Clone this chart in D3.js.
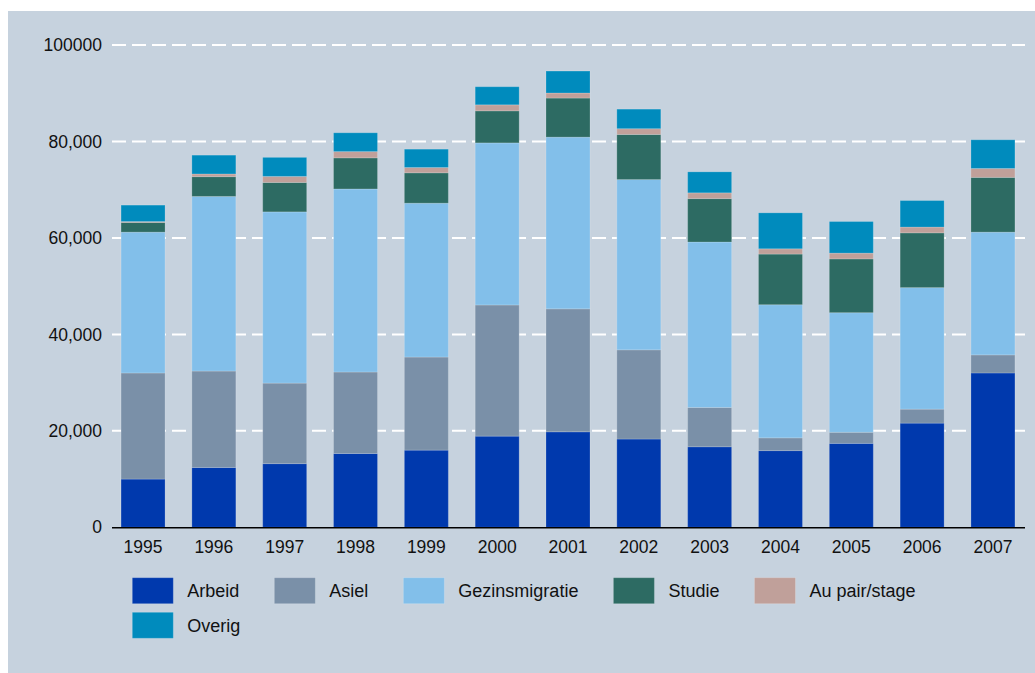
<!DOCTYPE html>
<html>
<head>
<meta charset="utf-8">
<script src="https://cdn.jsdelivr.net/npm/d3@7"></script>
<style>
  body { margin: 0; background: #fff; }
  #chart-area { width: 1035px; height: 673px; }
</style>
</head>
<body>
<div id="chart-area"></div>
<script>
var years = ["1995", "1996", "1997", "1998", "1999", "2000", "2001", "2002", "2003", "2004", "2005", "2006", "2007"];
var categories = ["Arbeid", "Asiel", "Gezinsmigratie", "Studie", "Au pair/stage", "Overig"];

var arbeid   = [10000, 12400, 13200, 15300, 16000, 18900, 19800, 18300, 16700, 15900, 17400, 21600, 32000];
var asiel    = [22000, 20000, 16700, 16900, 19300, 27200, 25500, 18500,  8150,  2650,  2300,  2900,  3750];
var gezins   = [29200, 36200, 35500, 37950, 31900, 33600, 35600, 35300, 34300, 27600, 24800, 25200, 25450];
var studie   = [ 2000,  4100,  6100,  6450,  6300,  6650,  8100,  9350,  9000, 10500, 11150, 11350, 11350];
var aupair   = [  200,   560,  1250,  1300,  1100,  1250,  1050,  1200,  1200,  1100,  1200,  1200,  1850];
var overig   = [ 3400,  3900,  3950,  3900,  3800,  3750,  4550,  4050,  4350,  7450,  6550,  5500,  5950];

var yTicks = [0, 20000, 40000, 60000, 80000, 100000];
var yTickLabels = ["0", "20,000", "40,000", "60,000", "80,000", "100000"];

var colors = ["#0039ad", "#7a90a8", "#82bfea", "#2d6b63", "#c0a09a", "#008bbd"];

var width = 1035, height = 673;
var font = "'Liberation Sans', Arial, sans-serif";

var svg = d3.select("#chart-area").append("svg")
    .attr("width", width)
    .attr("height", height);

// panel background
svg.append("rect")
    .attr("x", 8)
    .attr("y", 11)
    .attr("width", width - 8)
    .attr("height", height - 11)
    .attr("fill", "#c6d2de");

var x = d3.scaleBand()
    .domain(years)
    .range([107.6, 1028.4])
    .paddingInner(0.379)
    .paddingOuter(0.19);

var y = d3.scaleLinear()
    .domain([0, 100000])
    .range([527.3, 45]);

// gridlines
svg.selectAll(".grid")
    .data(yTicks.slice(1))
    .enter().append("line")
    .attr("class", "grid")
    .attr("x1", 112)
    .attr("x2", 1025)
    .attr("y1", d => y(d))
    .attr("y2", d => y(d))
    .attr("stroke", "#fff")
    .attr("stroke-width", 2)
    .attr("stroke-dasharray", "14,6");

// y labels
svg.selectAll(".ylabel")
    .data(yTicks)
    .enter().append("text")
    .attr("class", "ylabel")
    .attr("x", 102)
    .attr("y", d => y(d))
    .attr("dy", "0.35em")
    .attr("text-anchor", "end")
    .attr("font-family", font)
    .attr("font-size", "17.5px")
    .attr("fill", "#111")
    .text((d, i) => yTickLabels[i]);

// stacked data
var table = years.map(function(yr, i) {
    return {
        year: yr,
        "Arbeid": arbeid[i],
        "Asiel": asiel[i],
        "Gezinsmigratie": gezins[i],
        "Studie": studie[i],
        "Au pair/stage": aupair[i],
        "Overig": overig[i]
    };
});

var series = d3.stack().keys(categories)(table);

var groups = svg.selectAll(".series")
    .data(series)
    .enter().append("g")
    .attr("class", "series")
    .attr("fill", (d, i) => colors[i]);

groups.selectAll("rect")
    .data(d => d)
    .enter().append("rect")
    .attr("x", d => x(d.data.year))
    .attr("width", x.bandwidth())
    .attr("y", d => y(d[1]))
    .attr("height", d => y(d[0]) - y(d[1]))
    .attr("stroke", "rgba(255,255,255,0.18)")
    .attr("stroke-width", 1);

// x axis line
svg.append("line")
    .attr("x1", 112)
    .attr("x2", 1025)
    .attr("y1", y(0) + 0.5)
    .attr("y2", y(0) + 0.5)
    .attr("stroke", "#000")
    .attr("stroke-width", 1.5);

// year labels
svg.selectAll(".xlabel")
    .data(years)
    .enter().append("text")
    .attr("class", "xlabel")
    .attr("x", d => x(d) + x.bandwidth() / 2)
    .attr("y", 553)
    .attr("text-anchor", "middle")
    .attr("font-family", font)
    .attr("font-size", "17.5px")
    .attr("fill", "#111")
    .text(d => d);

// legend, flowing left to right
var legend = svg.append("g").attr("class", "legend");
var lx = 132.3, ly = 577.7;
categories.forEach(function(cat, i) {
    if (i == 5) { lx = 132.3; ly += 34.6; }
    var row = legend.append("g")
        .attr("transform", "translate(" + lx + "," + ly + ")");
    row.append("rect")
        .attr("width", 41)
        .attr("height", 26)
        .attr("fill", colors[i])
        .attr("stroke", "rgba(255,255,255,0.18)");
    var t = row.append("text")
        .attr("x", 55)
        .attr("y", 13)
        .attr("dy", "0.35em")
        .attr("font-family", font)
        .attr("font-size", "18px")
        .attr("fill", "#111")
        .text(cat);
    lx += 55 + t.node().getComputedTextLength() + 35;
});
</script>
</body>
</html>
